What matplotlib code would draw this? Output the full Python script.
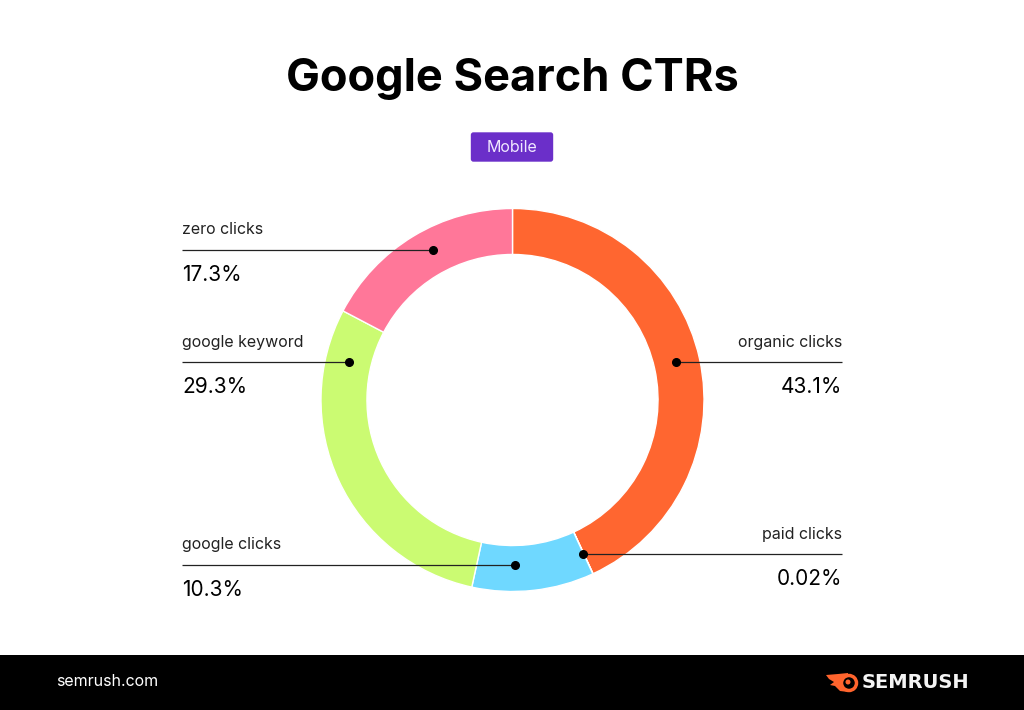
import matplotlib
matplotlib.use("Agg")
import matplotlib.pyplot as plt
from matplotlib.patches import Rectangle, FancyBboxPatch, Circle, Polygon

plt.rcParams['font.family'] = ['Inter', 'Lato', 'DejaVu Sans']

categories = ['organic clicks', 'paid clicks', 'google clicks', 'google keyword', 'zero clicks']
shares = [43.1, 0.02, 10.3, 29.3, 17.3]
value_labels = ['43.1%', '0.02%', '10.3%', '29.3%', '17.3%']
colors = ['#FF6630', '#FF6630', '#6FD8FF', '#CBFB72', '#FF7799']

W, H = 1024, 710
fig = plt.figure(figsize=(W / 100, H / 100), dpi=100, facecolor='white')
ax = fig.add_axes([0, 0, 1, 1])
ax.set_xlim(0, W)
ax.set_ylim(H, 0)
ax.axis('off')

# footer
ax.add_patch(Rectangle((0, 655), W, 55, color='black', lw=0))
ax.text(56, 682, 'semrush.com', color='white', fontsize=11.5, va='center')
ax.text(969, 683, 'SEMRUSH', color='#F4F4F4', fontsize=14, fontweight='bold', va='center', ha='right',
        family='DejaVu Sans')
ax.add_patch(Polygon([(826, 675), (838, 674), (848, 673), (848, 692), (840, 691), (835, 686),
                      (830, 685), (834, 682), (829, 679)], fc='#FF642D', lw=0))
ax.add_patch(Circle((849, 683), 7.5, fc='black', ec='#FF642D', lw=2.5))
ax.add_patch(Circle((848, 682), 2.5, fc='#FF642D', lw=0))

# title and badge
ax.text(512, 79, 'Google Search CTRs', ha='center', va='center', fontsize=32.5, fontweight='bold', color='black')
ax.add_patch(FancyBboxPatch((471.5, 133), 81, 28, boxstyle='round,pad=0,rounding_size=2',
                            fc='#6B2FC9', ec='#6B2FC9', lw=1))
ax.text(512, 148, 'Mobile', ha='center', va='center', fontsize=11.5, color='#F0E8FF')

# donut
pie_ax = fig.add_axes([321 / W, 1 - 592 / H, 383 / W, 384 / H])
pie_ax.pie(shares, colors=colors, startangle=90, counterclock=False, radius=1,
           wedgeprops=dict(width=0.24, edgecolor='white', linewidth=1.0))
pie_ax.set_xlim(-1, 1)
pie_ax.set_ylim(-1, 1)

over = fig.add_axes([0, 0, 1, 1], facecolor='none')
over.set_xlim(0, W)
over.set_ylim(H, 0)
over.axis('off')

# callouts, same order as categories
line_x0 = [842, 842, 182, 182, 182]
dot_x = [676, 583, 515, 349, 433]
line_y = [362, 554, 565, 362, 250]
for name, val, x0, x1, y in zip(categories, value_labels, line_x0, dot_x, line_y):
    ha = 'left' if x0 < 512 else 'right'
    over.plot([x0, x1], [y, y], color='#222222', lw=0.9, solid_capstyle='butt')
    over.plot([x1], [y], 'o', color='black', ms=5.5)
    over.text(x0, y - 20, name, ha=ha, va='center', fontsize=11.5, color='#222222')
    over.text(x0, y + 25, val, ha=ha, va='center', fontsize=15, color='black')

fig.savefig('out.png', dpi=100)
